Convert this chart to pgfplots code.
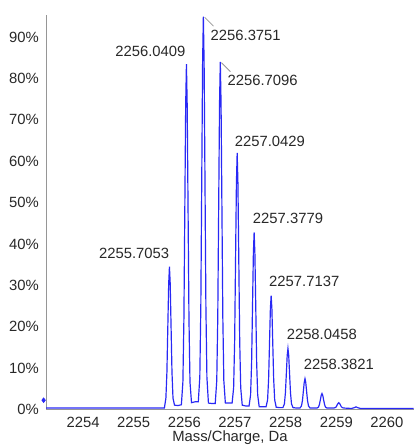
\documentclass[border=0pt]{standalone}
\usepackage{fontspec}
\setmainfont{Liberation Sans}
\usepackage{pgfplots}
\pgfplotsset{compat=1.18}

\definecolor{specblue}{RGB}{40,40,245}
\definecolor{axgray}{RGB}{150,150,150}
\definecolor{txt}{RGB}{40,40,40}

\begin{document}
\begin{tikzpicture}
\begin{axis}[
  scale only axis,
  width=247bp, height=265bp,
  xmin=2253.27, xmax=2260.53,
  ymin=0, ymax=95.4,
  axis lines*=left,
  axis line style={axgray, line width=0.8pt},
  major tick length=0pt,
  xtick={2254,2255,...,2260},
  ytick={0,10,...,90},
  /pgf/number format/assume math mode=true,
  xticklabel={\pgfmathprintnumber[1000 sep={}]{\tick}},
  yticklabel={\pgfmathprintnumber{\tick}\%},
  ticklabel style={font=\fontsize{10}{12}\selectfont, text=txt},
  xticklabel style={anchor=base, inner sep=0pt, yshift=-12bp},
  yticklabel style={xshift=-1.4bp},
  xlabel={Mass/Charge, Da},
  xlabel style={font=\fontsize{10}{12}\selectfont, text=txt, inner sep=0pt,
    at={(axis description cs:0.5,0)}, anchor=base, yshift=-21.5bp},
  clip=false,
]
\addplot[specblue, line width=0.8pt] coordinates {
(2253.27,0.3) (2255.6053,0.3)
(2255.6353,2.7) (2255.6553,9.0) (2255.6753,21.2) (2255.6903,30.4) (2255.7053,34.5)
(2255.7203,30.4) (2255.7353,21.2) (2255.7553,9.0) (2255.7753,2.7) (2255.8053,1.0)
(2255.873,0.9)
(2255.9409,1.1) (2255.9709,6.6) (2255.9909,21.8) (2256.0109,51.4) (2256.0259,73.6) (2256.0409,83.5)
(2256.0559,73.6) (2256.0709,51.4) (2256.0909,21.8) (2256.1109,6.6) (2256.1409,1.6)
(2256.208,1.8)
(2256.2751,1.8) (2256.3051,7.8) (2256.3251,25.0) (2256.3451,58.6) (2256.3601,83.8) (2256.3751,95.0)
(2256.3901,83.8) (2256.4051,58.6) (2256.4251,25.0) (2256.4451,7.8) (2256.4751,1.5)
(2256.542,1.4)
(2256.6096,1.4) (2256.6396,6.9) (2256.6596,22.1) (2256.6796,51.8) (2256.6946,74.1) (2256.7096,84.0)
(2256.7246,74.1) (2256.7396,51.8) (2256.7596,22.1) (2256.7796,6.9) (2256.8096,1.5)
(2256.876,1.5)
(2256.9429,1.5) (2256.9729,5.2) (2256.9929,16.4) (2257.0129,38.3) (2257.0279,54.7) (2257.0429,62.0)
(2257.0579,54.7) (2257.0729,38.3) (2257.0929,16.4) (2257.1129,5.2) (2257.1429,1.0)
(2257.210,0.8)
(2257.2779,0.8) (2257.3079,3.5) (2257.3279,11.2) (2257.3479,26.4) (2257.3629,37.7) (2257.3779,42.8)
(2257.3929,37.7) (2257.4079,26.4) (2257.4279,11.2) (2257.4479,3.5) (2257.4779,0.6)
(2257.546,0.6)
(2257.6137,0.6) (2257.6437,2.3) (2257.6637,7.3) (2257.6837,17.0) (2257.6987,24.3) (2257.7137,27.5)
(2257.7287,24.3) (2257.7437,17.0) (2257.7637,7.3) (2257.7837,2.3) (2257.8137,0.5)
(2257.88,0.4)
(2257.9458,0.4) (2257.9758,1.3) (2257.9958,4.0) (2258.0158,9.1) (2258.0308,13.0) (2258.0458,14.7)
(2258.0608,13.0) (2258.0758,9.1) (2258.0958,4.0) (2258.1158,1.3) (2258.1458,0.4)
(2258.214,0.3)
(2258.2821,0.3) (2258.3121,0.8) (2258.3321,2.1) (2258.3521,4.6) (2258.3671,6.5) (2258.3821,7.4)
(2258.3971,6.5) (2258.4121,4.6) (2258.4321,2.1) (2258.4521,0.8) (2258.4821,0.3)
(2258.618,0.3) (2258.648,0.5) (2258.668,1.2) (2258.688,2.4) (2258.703,3.4) (2258.718,3.8)
(2258.733,3.4) (2258.748,2.4) (2258.768,1.2) (2258.788,0.5) (2258.818,0.3)
(2258.95,0.3) (2258.98,0.4) (2259.00,0.6) (2259.02,1.1) (2259.035,1.4) (2259.05,1.6)
(2259.065,1.4) (2259.08,1.1) (2259.10,0.6) (2259.12,0.4) (2259.15,0.3)
(2259.30,0.2) (2259.36,0.4) (2259.39,0.6) (2259.42,0.4) (2259.48,0.2)
(2260.53,0.2)
};
\addplot[only marks, mark=diamond*, mark size=1.6pt, color=specblue] coordinates {(2253.22,2.2)};

% peak labels
\begin{scope}[every node/.style={inner sep=0pt, text=txt, font=\fontsize{10}{12}\selectfont}]
\node[anchor=base east] at ([shift={(0bp,5.8bp)}]axis cs:2255.7053,34.5) {2255.7053};
\node[anchor=base east] at ([shift={(-0.5bp,5bp)}]axis cs:2256.0409,83.5) {2256.0409};
\node[anchor=base west] at ([shift={(4.7bp,-16bp)}]axis cs:2256.3751,95.0) {2256.3751};
\node[anchor=base west] at ([shift={(4.7bp,-16bp)}]axis cs:2256.7096,84.0) {2256.7096};
\node[anchor=base west] at ([shift={(-1.8bp,4.5bp)}]axis cs:2257.0429,62.0) {2257.0429};
\node[anchor=base west] at ([shift={(-1bp,6bp)}]axis cs:2257.3779,42.8) {2257.3779};
\node[anchor=base west] at ([shift={(-1.5bp,5.8bp)}]axis cs:2257.7137,27.5) {2257.7137};
\node[anchor=base west] at ([shift={(-1bp,5.8bp)}]axis cs:2258.0458,14.7) {2258.0458};
\node[anchor=base west] at ([shift={(-1bp,6.5bp)}]axis cs:2258.3821,7.4) {2258.3821};
\end{scope}
\draw[axgray, line width=0.5pt] ([shift={(0.8bp,-0.5bp)}]axis cs:2256.3751,95.0) -- ++(6bp,-6bp);
\draw[axgray, line width=0.5pt] ([shift={(0.8bp,-0.5bp)}]axis cs:2256.7096,84.0) -- ++(6bp,-6bp);
\end{axis}
\path ([shift={(-31bp,-24bp)}]current axis.south west) rectangle ([shift={(2bp,10bp)}]current axis.north east);
\end{tikzpicture}
\end{document}
